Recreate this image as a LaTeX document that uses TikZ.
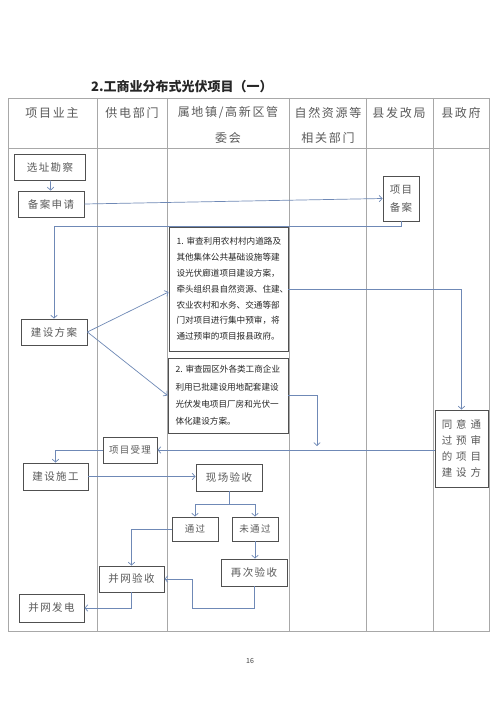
\documentclass[tikz,border=0pt]{standalone}
\usepackage{fontspec}
\setmainfont{Noto Sans CJK SC}
\newfontfamily\cjk{Noto Sans CJK SC}
\newfontfamily\cjksp[LetterSpace=14]{Noto Sans CJK SC}
\usetikzlibrary{arrows.meta}
\definecolor{gridc}{HTML}{A8A8A8}
\definecolor{boxc}{HTML}{505050}
\definecolor{textc}{HTML}{5A5A5A}
\definecolor{linec}{HTML}{6F89B6}
\begin{document}
\begin{tikzpicture}[x=1pt,y=-1pt,
  grid/.style={draw=gridc, line width=0.7pt},
  head/.style={text=textc, inner sep=0, font=\cjksp\fontsize{12}{14}\selectfont},
  fbox/.style={draw=boxc, line width=0.8pt, fill=white, text=textc, inner sep=0,
     align=center, font=\cjksp\fontsize{10.5}{12}\selectfont},
  tbox/.style={draw=boxc, line width=0.9pt, fill=white, text=black!85, inner ysep=0,
     inner xsep=7.5pt, align=left},
  conn/.style={draw=linec, line width=0.7pt},
  arr/.style={conn, -{Straight Barb[length=3pt,width=6.5pt]}}]
\useasboundingbox (0,0) rectangle (500,706);
\fill[white] (0,0) rectangle (500,706);
% title
\node[anchor=west, inner sep=0, font=\cjk\bfseries\fontsize{13}{15}\selectfont, text=black!85] (title) at (91,87) {2.工商业分布式光伏项目（一）};
% table
\draw[grid] (8,98) rectangle (489,631);
\draw[grid] (8,148) -- (489,148);
\foreach \x in {97,167,289,366,433} \draw[grid] (\x,98) -- (\x,631);
\node[head] (h1) at (52,113) {项目业主};
\node[head] (h2) at (132,113) {供电部门};
\node[head] (h3a) at (228,113) {属地镇/高新区管};
\node[head] (h3b) at (228,138) {委会};
\node[head] (h4a) at (328,113) {自然资源等};
\node[head] (h4b) at (328,138) {相关部门};
\node[head] (h5) at (399,113) {县发改局};
\node[head] (h6) at (461,113) {县政府};
% flow nodes
\node[fbox, minimum width=71, minimum height=26] (n1) at (50,167) {选址勘察};
\node[fbox, minimum width=66, minimum height=26] (n2) at (51,204) {备案申请};
\node[fbox, minimum width=36, minimum height=45, font=\cjksp\fontsize{10.5}{18}\selectfont] (n3) at (401,198.5) {项目\\备案};
\node[fbox, minimum width=66, minimum height=26] (n4) at (54,332) {建设方案};
\node[tbox, text width=104, minimum height=124, font=\cjk\fontsize{8.6}{15.8}\selectfont] (b1) at (228.5,289)
 {1.~审查利用农村村内道路及\\其他集体公共基础设施等建\\设光伏廊道项目建设方案，\\牵头组织县自然资源、住建、\\农业农村和水务、交通等部\\门对项目进行集中预审，将\\通过预审的项目报县政府。};
\node[tbox, text width=105, minimum height=75, font=\cjk\fontsize{8.6}{17.3}\selectfont] (b2) at (228,395.5)
 {2.~审查园区外各类工商企业\\利用已批建设用地配套建设\\光伏发电项目厂房和光伏一\\体化建设方案。};
\node[fbox, minimum width=53, minimum height=77, font=\cjk\fontsize{10.5}{16.3}\selectfont] (gov) at (461.5,448.5)
 {同\hspace{4pt}意\hspace{4pt}通\\过\hspace{4pt}预\hspace{4pt}审\\的\hspace{4pt}项\hspace{4pt}目\\建\hspace{4pt}设\hspace{4pt}方};
\node[fbox, minimum width=54, minimum height=26, font=\cjksp\fontsize{9.5}{11}\selectfont] (n5) at (130,450) {项目受理};
\node[fbox, minimum width=65, minimum height=27] (n6) at (55.5,476.5) {建设施工};
\node[fbox, minimum width=66, minimum height=27] (n7) at (229,477.5) {现场验收};
\node[fbox, minimum width=46, minimum height=24, font=\cjksp\fontsize{9.5}{11}\selectfont] (pass) at (195,529) {通过};
\node[fbox, minimum width=46, minimum height=24, font=\cjksp\fontsize{9.5}{11}\selectfont] (fail) at (255,529) {未通过};
\node[fbox, minimum width=66, minimum height=27] (n8) at (254,572.5) {再次验收};
\node[fbox, minimum width=65, minimum height=26] (n9) at (131.5,579) {并网验收};
\node[fbox, minimum width=65, minimum height=28] (n10) at (51.5,608) {并网发电};
% page number
\node[inner sep=0, text=black!75, font=\fontsize{7}{8}\selectfont] (pg) at (250,661) {16};
% connectors
\draw[arr] (n1) -- (n2);
\draw[arr] (n2.east) -- (n3.west);
\draw[arr] (n3.south) -- ++(0,5) -| (n4.north);
\draw[arr] (n4.east) -- ([yshift=-3pt]b1.west);
\draw[arr] (n4.east) -- (b2.west);
\draw[arr] (b1.east) -| (gov.north);
\coordinate (m) at (317,446);
\draw[arr] (b2.east) -| (m);
\draw[arr] (gov.west |- n5.east) -- (n5.east);
\draw[arr] (n5.west) -| (n6.north);
\draw[arr] (n6.east) -- (n7.west |- n6.east);
\coordinate (br) at (229,504);
\draw[conn] (n7.south) -- (br);
\draw[arr] (br) -| (pass.north);
\draw[arr] (br) -| (fail.north);
\draw[arr] (fail.south) -- (fail.south |- n8.north);
\draw[arr] (pass.west) -| (n9.north);
\coordinate (c1) at (192,608);
\draw[arr] (n8.south) |- (c1) |- (n9.east);
\draw[arr] (n9.south) |- (n10.east);
\end{tikzpicture}
\end{document}
